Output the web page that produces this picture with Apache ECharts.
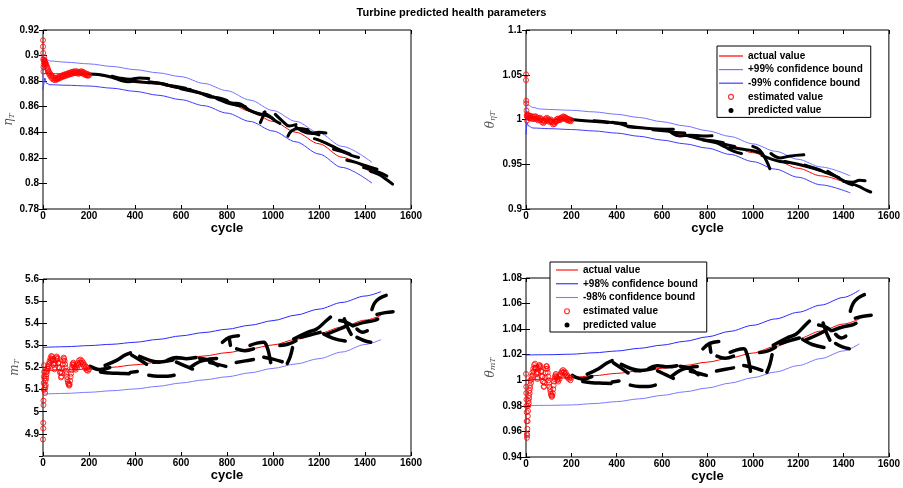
<!DOCTYPE html>
<html><head><meta charset="utf-8">
<script src="https://cdn.jsdelivr.net/npm/echarts/dist/echarts.min.js"></script>
<style>html,body{margin:0;padding:0;background:#fff}#c{width:903px;height:488px}</style>
</head><body><div id="c"></div>
<script>
// ---------- axis tick settings ----------
const xRange = [0, 1600, 200];
const tlRange = [0.78, 0.92, 0.02];
const trRange = [0.9, 1.1, 0.05];
const blRange = [4.8, 5.6, 0.1];
const brRange = [0.94, 1.08, 0.02];

const topLegendNames = ['actual value', '+99% confidence bound', '-99% confidence bound', 'estimated value', 'predicted value'];
const botLegendNames = ['actual value', '+98% confidence bound', '-98% confidence bound', 'estimated value', 'predicted value'];

// ---------- top-left: eta_T ----------
const tlActual = [[0,0.886],[100,0.8857],[200,0.8852],[300,0.8832],[400,0.8805],[500,0.8775],[600,0.8740],[700,0.8695],[800,0.8635],[900,0.8565],[1000,0.8485],[1100,0.8400],[1200,0.8310],[1300,0.8205],[1430,0.8080]];
const tlUpper = [[0,0.876],[3,0.8935],[6,0.899],[12,0.8975],[30,0.8958],[100,0.8948],[200,0.8935],[300,0.8915],[400,0.8890],[500,0.8865],[600,0.8835],[700,0.8782],[800,0.8725],[900,0.8652],[1000,0.8570],[1100,0.8485],[1200,0.8395],[1300,0.8290],[1430,0.8165]];
const tlLower = [[0,0.873],[4,0.878],[8,0.8825],[14,0.8785],[30,0.8772],[100,0.8768],[200,0.8762],[300,0.8745],[400,0.8720],[500,0.8690],[600,0.8655],[700,0.8608],[800,0.8550],[900,0.8485],[1000,0.8410],[1100,0.8325],[1200,0.8230],[1300,0.8125],[1430,0.8003]];
const tlEst = [[0,0.912],[0,0.907],[1,0.902],[1,0.897],[2,0.891],[2,0.8875],[3,0.893],[4,0.896],[5,0.8985],[6,0.8965],[7,0.8945],[8,0.8955],[9,0.8935],[10,0.8945],[12,0.8925],[14,0.8935],[16,0.8905],[18,0.8915],[20,0.8885],[22,0.8895],[24,0.8865],[26,0.8875],[28,0.8850],[30,0.8862],[33,0.8835],[36,0.8848],[39,0.8822],[42,0.8835],[45,0.8812],[48,0.8826],[51,0.8808],[54,0.8822],[57,0.8810],[60,0.8825],[63,0.8815],[66,0.8830],[69,0.8820],[72,0.8836],[75,0.8826],[78,0.8842],[81,0.8830],[84,0.8845],[87,0.8835],[90,0.8850],[93,0.8838],[96,0.8853],[99,0.8842],[102,0.8857],[105,0.8845],[108,0.8860],[111,0.8850],[114,0.8865],[117,0.8853],[120,0.8868],[123,0.8856],[126,0.8872],[129,0.8860],[132,0.8875],[135,0.8862],[138,0.8876],[141,0.8864],[144,0.8878],[147,0.8862],[150,0.8874],[153,0.8858],[156,0.8870],[159,0.8860],[162,0.8876],[165,0.8864],[168,0.8877],[171,0.8862],[174,0.8872],[177,0.8855],[180,0.8866],[183,0.8850],[186,0.8860],[189,0.8845],[192,0.8856],[195,0.8842],[198,0.8852],[200,0.8845]];
const tlPred = [
 [[200,0.8855],[250,0.8850],[300,0.8830],[340,0.8805],[370,0.8795],[400,0.8805]],
 [[300,0.8838],[330,0.8825],[380,0.8815],[420,0.8825],[460,0.8820]],
 [[390,0.8800],[450,0.8790],[500,0.8785],[540,0.8770]],
 [[460,0.8795],[520,0.8780],[560,0.8760],[600,0.8745],[640,0.8735]],
 [[530,0.8772],[580,0.8758],[620,0.8745]],
 [[600,0.8740],[650,0.8720],[700,0.8700],[730,0.8685]],
 [[640,0.8732],[680,0.8710],[720,0.8680],[760,0.8670],[800,0.8650]],
 [[740,0.8678],[760,0.8660],[800,0.8630],[850,0.8610],[880,0.8600]],
 [[800,0.8645],[820,0.8630],[860,0.8620],[900,0.8570],[940,0.8540]],
 [[870,0.8600],[900,0.8570],[940,0.8545],[980,0.8525],[1000,0.8505]],
 [[945,0.8475],[965,0.8560]],
 [[960,0.8555],[990,0.8520],[1010,0.8490],[1030,0.8470]],
 [[1010,0.8540],[1040,0.8490],[1070,0.8450],[1100,0.8460]],
 [[1065,0.8370],[1080,0.8410],[1110,0.8430],[1150,0.8420]],
 [[1100,0.8440],[1140,0.8400],[1180,0.8390],[1200,0.8380]],
 [[1150,0.8420],[1170,0.8395],[1200,0.8400],[1230,0.8395]],
 [[1180,0.8350],[1205,0.8334],[1260,0.8290],[1300,0.8255],[1335,0.8229]],
 [[1263,0.8268],[1300,0.8250],[1340,0.8220],[1372,0.8203]],
 [[1321,0.8182],[1360,0.8165],[1400,0.8140],[1452,0.8111]],
 [[1394,0.8124],[1440,0.8100],[1470,0.8080],[1495,0.8058]],
 [[1423,0.8097],[1460,0.8070],[1490,0.8035],[1520,0.7995]]
];

// ---------- top-right: theta_eta_T ----------
const trActual = [[0,1.001],[100,1.0005],[200,0.9996],[300,0.9978],[400,0.9953],[500,0.9917],[600,0.9872],[700,0.9828],[800,0.9777],[900,0.9710],[1000,0.9629],[1100,0.9545],[1200,0.9455],[1300,0.9370],[1430,0.9275]];
const trUpper = [[0,0.985],[4,1.017],[10,1.016],[30,1.0135],[60,1.0118],[100,1.0112],[200,1.0103],[300,1.0085],[400,1.0058],[500,1.0022],[600,0.9975],[700,0.9928],[800,0.9874],[900,0.9810],[1000,0.9728],[1100,0.9645],[1200,0.9555],[1300,0.9470],[1430,0.9370]];
const trLower = [[0,0.983],[5,0.9965],[10,0.9930],[30,0.9905],[100,0.9898],[200,0.9888],[300,0.9872],[400,0.9848],[500,0.9812],[600,0.9770],[700,0.9728],[800,0.9680],[900,0.9610],[1000,0.9530],[1100,0.9445],[1200,0.9355],[1300,0.9270],[1430,0.9180]];
const trEst = [[0,1.0505],[0,1.044],[1,1.021],[1,1.018],[2,1.010],[3,1.004],[4,0.999],[5,1.006],[6,1.003],[8,1.005],[10,1.002],[12,1.0045],[14,1.0015],[16,1.004],[18,1.0015],[20,1.004],[23,1.001],[26,1.0035],[29,1.0005],[32,1.003],[35,1.0005],[38,1.0035],[41,1.001],[44,1.0035],[47,1.0005],[50,1.002],[53,0.9990],[56,1.0015],[59,0.9995],[62,1.002],[65,0.999],[68,1.0005],[71,0.9970],[74,0.9990],[77,0.9960],[80,0.9985],[83,0.9975],[86,1.0010],[89,0.9995],[92,1.0020],[95,0.9990],[98,1.0005],[101,0.9975],[104,0.9995],[107,0.9975],[110,1.0000],[113,0.9970],[116,0.9975],[119,0.9945],[122,0.9965],[125,0.9950],[128,0.9980],[131,0.9970],[134,1.0000],[137,0.9985],[140,1.0010],[143,0.9990],[146,1.0010],[149,0.9995],[152,1.0015],[155,1.0000],[158,1.0025],[161,1.0010],[164,1.0035],[167,1.0015],[170,1.0030],[173,1.0005],[176,1.0020],[179,0.9995],[182,1.0010],[185,0.9990],[188,1.0005],[191,0.9985],[194,1.0000],[197,0.9980],[200,0.9995]];
const trPred = [
 [[200,1.0000],[260,0.9985],[320,0.9975],[360,0.9965]],
 [[300,0.9985],[350,0.9975],[400,0.9960],[440,0.9955]],
 [[380,0.9970],[420,0.9950],[450,0.9925],[500,0.9910]],
 [[450,0.9920],[520,0.9905],[580,0.9895],[650,0.9890]],
 [[560,0.9885],[620,0.9870],[660,0.9855],[700,0.9850]],
 [[640,0.9855],[680,0.9815],[720,0.9825],[780,0.9815],[820,0.9818]],
 [[700,0.9830],[740,0.9800],[780,0.9775],[830,0.9760],[870,0.9740]],
 [[780,0.9770],[830,0.9745],[880,0.9720],[920,0.9700]],
 [[840,0.9745],[880,0.9690],[920,0.9640],[950,0.9620]],
 [[900,0.9690],[950,0.9670],[1000,0.9650],[1040,0.9620]],
 [[1000,0.9700],[1030,0.9660],[1060,0.9540],[1075,0.9450]],
 [[1040,0.9600],[1080,0.9560],[1120,0.9530],[1160,0.9520]],
 [[1080,0.9620],[1120,0.9570],[1160,0.9590],[1225,0.9605]],
 [[1140,0.9530],[1200,0.9500],[1260,0.9460],[1300,0.9430]],
 [[1230,0.9490],[1280,0.9450],[1330,0.9400],[1380,0.9350]],
 [[1330,0.9420],[1370,0.9360],[1410,0.9300],[1440,0.9270]],
 [[1400,0.9310],[1440,0.9300],[1470,0.9320],[1495,0.9315]],
 [[1430,0.9290],[1470,0.9250],[1500,0.9210],[1520,0.9190]]
];

// ---------- bottom-left: m_T ----------
const blActual = [[0,5.186],[100,5.189],[200,5.193],[300,5.201],[400,5.212],[500,5.224],[600,5.238],[700,5.252],[800,5.267],[900,5.284],[1000,5.302],[1100,5.327],[1200,5.354],[1300,5.383],[1400,5.414],[1470,5.436]];
const blUpper = [[0,5.291],[100,5.294],[200,5.299],[300,5.305],[400,5.314],[500,5.327],[600,5.343],[700,5.358],[800,5.373],[900,5.391],[1000,5.412],[1100,5.437],[1200,5.464],[1300,5.494],[1400,5.523],[1470,5.543]];
const blLower = [[0,5.080],[100,5.083],[200,5.088],[300,5.095],[400,5.103],[500,5.115],[600,5.130],[700,5.144],[800,5.158],[900,5.176],[1000,5.196],[1100,5.216],[1200,5.240],[1300,5.270],[1400,5.304],[1470,5.326]];
const blEst = [[0,4.875],[1,4.925],[1,4.950],[2,5.030],[2,5.050],[3,5.100],[3,5.130],[4,5.160],[4,5.210],[5,5.180],[6,5.150],[7,5.120],[8,5.100],[9,5.085],[10,5.110],[11,5.140],[12,5.120],[13,5.160],[14,5.150],[15,5.180],[16,5.170],[17,5.195],[18,5.185],[20,5.205],[22,5.195],[24,5.215],[26,5.205],[28,5.228],[30,5.220],[32,5.242],[34,5.232],[36,5.252],[38,5.240],[40,5.250],[42,5.232],[44,5.238],[46,5.212],[48,5.218],[50,5.192],[52,5.200],[54,5.218],[56,5.232],[58,5.245],[60,5.250],[62,5.238],[64,5.242],[66,5.218],[68,5.222],[70,5.198],[72,5.200],[74,5.176],[76,5.180],[78,5.155],[80,5.160],[82,5.175],[84,5.195],[86,5.215],[88,5.232],[90,5.245],[92,5.240],[94,5.230],[96,5.215],[98,5.200],[100,5.185],[102,5.172],[104,5.158],[106,5.146],[108,5.135],[110,5.128],[112,5.122],[114,5.118],[116,5.125],[118,5.140],[120,5.158],[122,5.172],[124,5.188],[126,5.200],[128,5.212],[130,5.218],[132,5.222],[134,5.212],[136,5.205],[138,5.195],[140,5.200],[142,5.190],[145,5.208],[148,5.200],[151,5.220],[154,5.212],[157,5.232],[160,5.222],[163,5.236],[166,5.222],[169,5.230],[172,5.215],[175,5.222],[178,5.205],[181,5.212],[184,5.196],[187,5.204],[190,5.188],[193,5.198],[196,5.185],[200,5.192]];
const blPred = [
 [[205,5.205],[250,5.190],[290,5.200]],
 [[250,5.180],[290,5.175],[340,5.173],[375,5.172]],
 [[270,5.210],[320,5.232],[355,5.255],[380,5.266]],
 [[385,5.257],[420,5.235],[450,5.215]],
 [[380,5.178],[410,5.182]],
 [[420,5.250],[465,5.232],[505,5.224]],
 [[460,5.165],[500,5.160],[540,5.160],[570,5.165]],
 [[480,5.224],[520,5.226],[565,5.234]],
 [[540,5.232],[580,5.245],[625,5.240],[665,5.245]],
 [[580,5.224],[620,5.206],[650,5.193]],
 [[640,5.200],[680,5.226],[725,5.238],[755,5.241]],
 [[680,5.242],[725,5.231],[760,5.208]],
 [[725,5.222],[760,5.214],[795,5.205]],
 [[780,5.314],[810,5.336],[850,5.344]],
 [[810,5.330],[815,5.300]],
 [[840,5.223],[880,5.230],[915,5.236]],
 [[842,5.284],[878,5.276],[915,5.284]],
 [[900,5.300],[930,5.310],[960,5.314],[975,5.290],[985,5.250],[990,5.222]],
 [[960,5.246],[1000,5.238],[1040,5.226]],
 [[1030,5.299],[1067,5.306],[1100,5.321]],
 [[1085,5.290],[1075,5.250],[1062,5.218]],
 [[1090,5.329],[1150,5.359],[1190,5.374],[1230,5.410],[1250,5.428]],
 [[1120,5.336],[1160,5.347],[1205,5.359]],
 [[1220,5.352],[1262,5.332],[1314,5.320]],
 [[1234,5.351],[1290,5.374],[1322,5.389]],
 [[1290,5.412],[1320,5.404],[1345,5.389]],
 [[1310,5.420],[1325,5.380],[1340,5.350]],
 [[1350,5.389],[1395,5.404],[1437,5.412],[1455,5.419]],
 [[1365,5.374],[1390,5.359],[1410,5.366]],
 [[1365,5.336],[1395,5.322],[1425,5.314]],
 [[1430,5.462],[1442,5.492],[1462,5.512],[1492,5.526]],
 [[1452,5.440],[1488,5.448],[1522,5.452]]
];

// ---------- bottom-right: theta_m_T ----------
const brActual = [[0,1.0002],[100,1.0010],[200,1.0022],[300,1.0036],[400,1.0054],[500,1.0074],[600,1.0094],[700,1.0116],[800,1.0142],[900,1.0175],[1000,1.0213],[1100,1.0265],[1200,1.0325],[1300,1.0385],[1400,1.0440],[1470,1.0480]];
const brUpper = [[0,1.0198],[100,1.0200],[200,1.0204],[300,1.0215],[400,1.0229],[500,1.0250],[600,1.0275],[700,1.0305],[800,1.0340],[900,1.0383],[1000,1.0430],[1100,1.0480],[1200,1.0532],[1300,1.0588],[1400,1.0648],[1470,1.0705]];
const brLower = [[0,0.9802],[100,0.9804],[200,0.9807],[300,0.9818],[400,0.9833],[500,0.9855],[600,0.9882],[700,0.9910],[800,0.9940],[900,0.9978],[1000,1.0020],[1100,1.0065],[1200,1.0115],[1300,1.0170],[1400,1.0230],[1470,1.0285]];
const brEst = [[0,1.005],[1,0.995],[1,0.990],[2,0.985],[2,0.980],[3,0.975],[3,0.968],[4,0.958],[4,0.955],[5,0.957],[6,0.962],[7,0.968],[8,0.972],[9,0.976],[10,0.980],[11,0.984],[12,0.982],[13,0.988],[14,0.986],[15,0.992],[16,0.990],[17,0.996],[18,0.994],[20,1.000],[22,0.998],[24,1.003],[26,1.001],[28,1.006],[30,1.004],[32,1.009],[34,1.007],[36,1.012],[38,1.010],[40,1.013],[42,1.009],[44,1.010],[46,1.005],[48,1.006],[50,1.001],[52,1.002],[54,1.006],[56,1.009],[58,1.011],[60,1.012],[62,1.010],[64,1.011],[66,1.007],[68,1.007],[70,1.003],[72,1.003],[74,0.999],[76,0.999],[78,0.995],[80,0.995],[82,0.998],[84,1.002],[86,1.006],[88,1.009],[90,1.011],[92,1.011],[94,1.009],[96,1.006],[98,1.003],[100,1.000],[102,0.998],[104,0.995],[106,0.993],[108,0.991],[110,0.989],[112,0.988],[114,0.987],[116,0.988],[118,0.990],[120,0.993],[122,0.996],[124,0.999],[126,1.001],[128,1.003],[130,1.004],[132,1.005],[134,1.003],[136,1.002],[138,1.000],[140,1.001],[142,0.999],[145,1.003],[148,1.001],[151,1.005],[154,1.004],[157,1.007],[160,1.006],[163,1.008],[166,1.006],[169,1.007],[172,1.005],[175,1.006],[178,1.003],[181,1.004],[184,1.002],[187,1.003],[190,1.001],[193,1.002],[196,1.000],[200,1.002]];
const brPred = [
 [[205,1.0038],[250,1.0010],[290,1.0029]],
 [[250,0.9990],[290,0.9981],[340,0.9977],[375,0.9975]],
 [[270,1.0048],[320,1.0090],[355,1.0133],[380,1.0154]],
 [[385,1.0137],[420,1.0095],[450,1.0057]],
 [[380,0.9987],[410,0.9994]],
 [[420,1.0124],[465,1.0090],[505,1.0074]],
 [[460,0.9962],[500,0.9952],[540,0.9952],[570,0.9962]],
 [[480,1.0074],[520,1.0078],[565,1.0093]],
 [[540,1.0090],[580,1.0114],[625,1.0105],[665,1.0114]],
 [[580,1.0074],[620,1.0040],[650,1.0015]],
 [[640,1.0029],[680,1.0078],[725,1.0101],[755,1.0107]],
 [[680,1.0109],[725,1.0088],[760,1.0044]],
 [[725,1.0070],[760,1.0055],[795,1.0038]],
 [[780,1.0246],[810,1.0288],[850,1.0303]],
 [[810,1.0276],[815,1.0219]],
 [[840,1.0072],[880,1.0086],[915,1.0097]],
 [[842,1.0189],[878,1.0173],[915,1.0189]],
 [[900,1.0219],[930,1.0238],[960,1.0246],[975,1.0200],[985,1.0124],[990,1.0070]],
 [[960,1.0116],[1000,1.0101],[1040,1.0078]],
 [[1030,1.0217],[1067,1.0230],[1100,1.0259]],
 [[1085,1.0200],[1075,1.0124],[1062,1.0063]],
 [[1090,1.0274],[1150,1.0331],[1190,1.0360],[1230,1.0429],[1250,1.0463]],
 [[1120,1.0288],[1160,1.0309],[1205,1.0331]],
 [[1220,1.0318],[1262,1.0280],[1314,1.0257]],
 [[1234,1.0316],[1290,1.0360],[1322,1.0389]],
 [[1290,1.0432],[1320,1.0417],[1345,1.0389]],
 [[1310,1.0448],[1325,1.0371],[1340,1.0314]],
 [[1350,1.0389],[1395,1.0417],[1437,1.0432],[1455,1.0446]],
 [[1365,1.0360],[1390,1.0331],[1410,1.0345]],
 [[1365,1.0288],[1395,1.0261],[1425,1.0246]],
 [[1430,1.0540],[1442,1.0600],[1462,1.0640],[1492,1.0670]],
 [[1452,1.0486],[1488,1.0501],[1522,1.0509]]
];

// ---------- build chart ----------
const FONT = 'Liberation Sans, Arial, sans-serif';
const SERIF = 'DejaVu Serif, serif';
const grids = [
  {left:43, top:30, width:368, height:179},
  {left:526, top:30, width:367, height:179},
  {left:43, top:279, width:368, height:177},
  {left:526, top:278, width:367, height:179}
].map(g => Object.assign({show:true, borderColor:'#000', borderWidth:1, backgroundColor:'#fff'}, g));

const yRanges = [tlRange, trRange, blRange, brRange];
const yNames = ['{a|η}{b|T}', '{a|θ}{b|ηT}', '{a|m}{b|T}', '{a|θ}{b|mT}'];
const yGaps = [18, 29, 15, 29];
const predWidth = [3, 3, 3.5, 3.5];

const xAxes = [], yAxes = [];
for (let g = 0; g < 4; g++) {
  [false, true].forEach(mirror => {
    xAxes.push({
      type:'value', gridIndex:g, min:xRange[0], max:xRange[1], interval:xRange[2],
      position: mirror ? 'top' : 'bottom',
      name: mirror ? '' : 'cycle', nameLocation:'middle', nameGap: 10,
      nameTextStyle:{fontWeight:'bold', fontSize:13, fontFamily:FONT, color:'#000'},
      axisLine:{show:false},
      axisTick:{show:true, inside:true, length:4, lineStyle:{color:'#000'}},
      axisLabel:{show:!mirror, fontWeight:'bold', fontSize:10, fontFamily:FONT, color:'#000', margin:2,
                 formatter: v => String(v)},
      splitLine:{show:false}
    });
    const r = yRanges[g];
    yAxes.push({
      type:'value', gridIndex:g, min:r[0], max:r[1], interval:r[2],
      position: mirror ? 'right' : 'left',
      name: mirror ? '' : yNames[g], nameLocation:'middle', nameGap: yGaps[g],
      nameTextStyle:{color:'#555', rich:{
        a:{fontFamily:SERIF, fontStyle:'italic', fontSize:12, color:'#555'},
        b:{fontFamily:SERIF, fontStyle:'italic', fontSize:8, color:'#555', padding:[5,0,0,0]}
      }},
      axisLine:{show:false},
      axisTick:{show:true, inside:true, length:4, lineStyle:{color:'#000'}},
      axisLabel:{show:!mirror, fontWeight:'bold', fontSize:10, fontFamily:FONT, color:'#000', margin:4,
                 showMinLabel: g === 2 ? false : true},
      splitLine:{show:false}
    });
  });
}

const series = [];
function lineSeries(name, g, data, color, width, z) {
  series.push({name, type:'line', xAxisIndex:g*2, yAxisIndex:g*2, data, symbol:'none', showSymbol:false,
    smooth:0.3, smoothMonotone:'x', lineStyle:{color, width}, itemStyle:{color}, z, silent:true});
}
function estSeries(g, data) {
  series.push({name:'estimated value', type:'scatter', xAxisIndex:g*2, yAxisIndex:g*2, data,
    symbol:'circle', symbolSize:5, itemStyle:{color:'rgba(255,255,255,0)', borderColor:'#ff0000', borderWidth:1},
    z:5, silent:true});
}
function predSeries(g, segs) {
  segs.forEach(s => series.push({name:'predicted value', type:'line', xAxisIndex:g*2, yAxisIndex:g*2, data:s,
    symbol:'none', smooth:0.4, lineStyle:{color:'#000', width:predWidth[g], cap:'round', join:'round'},
    itemStyle:{color:'#000'}, z:4, silent:true}));
}

const topUpC = '#7474ff', topLoC = '#3c3cff', botUpC = '#2a2aff', botLoC = '#7a7aff';
const nameColor = {
  'actual value':'#ff0000',
  '+99% confidence bound':topUpC, '-99% confidence bound':topLoC,
  '+98% confidence bound':botUpC, '-98% confidence bound':botLoC
};
// TL
lineSeries('actual value', 0, tlActual, '#ff0000', 1, 2);
lineSeries('+99% confidence bound', 0, tlUpper, topUpC, 1, 2);
lineSeries('-99% confidence bound', 0, tlLower, topLoC, 1, 2);
estSeries(0, tlEst); predSeries(0, tlPred);
// TR
lineSeries('actual value', 1, trActual, '#ff0000', 1, 2);
lineSeries('+99% confidence bound', 1, trUpper, topUpC, 1, 2);
lineSeries('-99% confidence bound', 1, trLower, topLoC, 1, 2);
estSeries(1, trEst); predSeries(1, trPred);
// BL
lineSeries('actual value', 2, blActual, '#ff0000', 1, 2);
lineSeries('+98% confidence bound', 2, blUpper, botUpC, 1, 2);
lineSeries('-98% confidence bound', 2, blLower, botLoC, 1, 2);
estSeries(2, blEst); predSeries(2, blPred);
// BR
lineSeries('actual value', 3, brActual, '#ff0000', 1, 2);
lineSeries('+98% confidence bound', 3, brUpper, botUpC, 1, 2);
lineSeries('-98% confidence bound', 3, brLower, botLoC, 1, 2);
estSeries(3, brEst); predSeries(3, brPred);

function legendData(names) {
  return names.map(n => {
    if (n === 'estimated value') return {name:n, icon:'circle', itemStyle:{color:'rgba(255,255,255,0)', borderColor:'#ff0000', borderWidth:1.2}};
    if (n === 'predicted value') return {name:n, icon:'circle', itemStyle:{color:'#000', borderWidth:0}};
    return {name:n, icon:'path://M0,0H24V1.2H0Z', itemStyle:{color:nameColor[n], borderWidth:0},
            lineStyle:{color:nameColor[n], width:0}};
  });
}
const legendCommon = {orient:'vertical', selectedMode:false, itemWidth:24, itemHeight:5,
  backgroundColor:'#fff', borderColor:'#000', borderWidth:1, borderRadius:0, z:20,
  textStyle:{fontWeight:'bold', fontSize:10, fontFamily:FONT, color:'#000', lineHeight:12}};

const option = {
  animation:false,
  backgroundColor:'#fff',
  title:{text:'Turbine predicted health parameters', left:'center', top:2,
    textStyle:{fontSize:11, fontWeight:'bold', fontFamily:FONT, color:'#000'}},
  grid: grids,
  xAxis: xAxes,
  yAxis: yAxes,
  legend: [
    Object.assign({}, legendCommon, {left:717, top:46, padding:[4,8,1,2], itemGap:1.6, itemTextGap:3, data:legendData(topLegendNames)}),
    Object.assign({}, legendCommon, {left:550, top:262, padding:[2,9,1,6], itemGap:1.75, itemTextGap:3, itemWidth:22, data:legendData(botLegendNames)})
  ],
  series
};
const chart = echarts.init(document.getElementById('c'), null, {renderer:'canvas'});
chart.setOption(option);
</script></body></html>
